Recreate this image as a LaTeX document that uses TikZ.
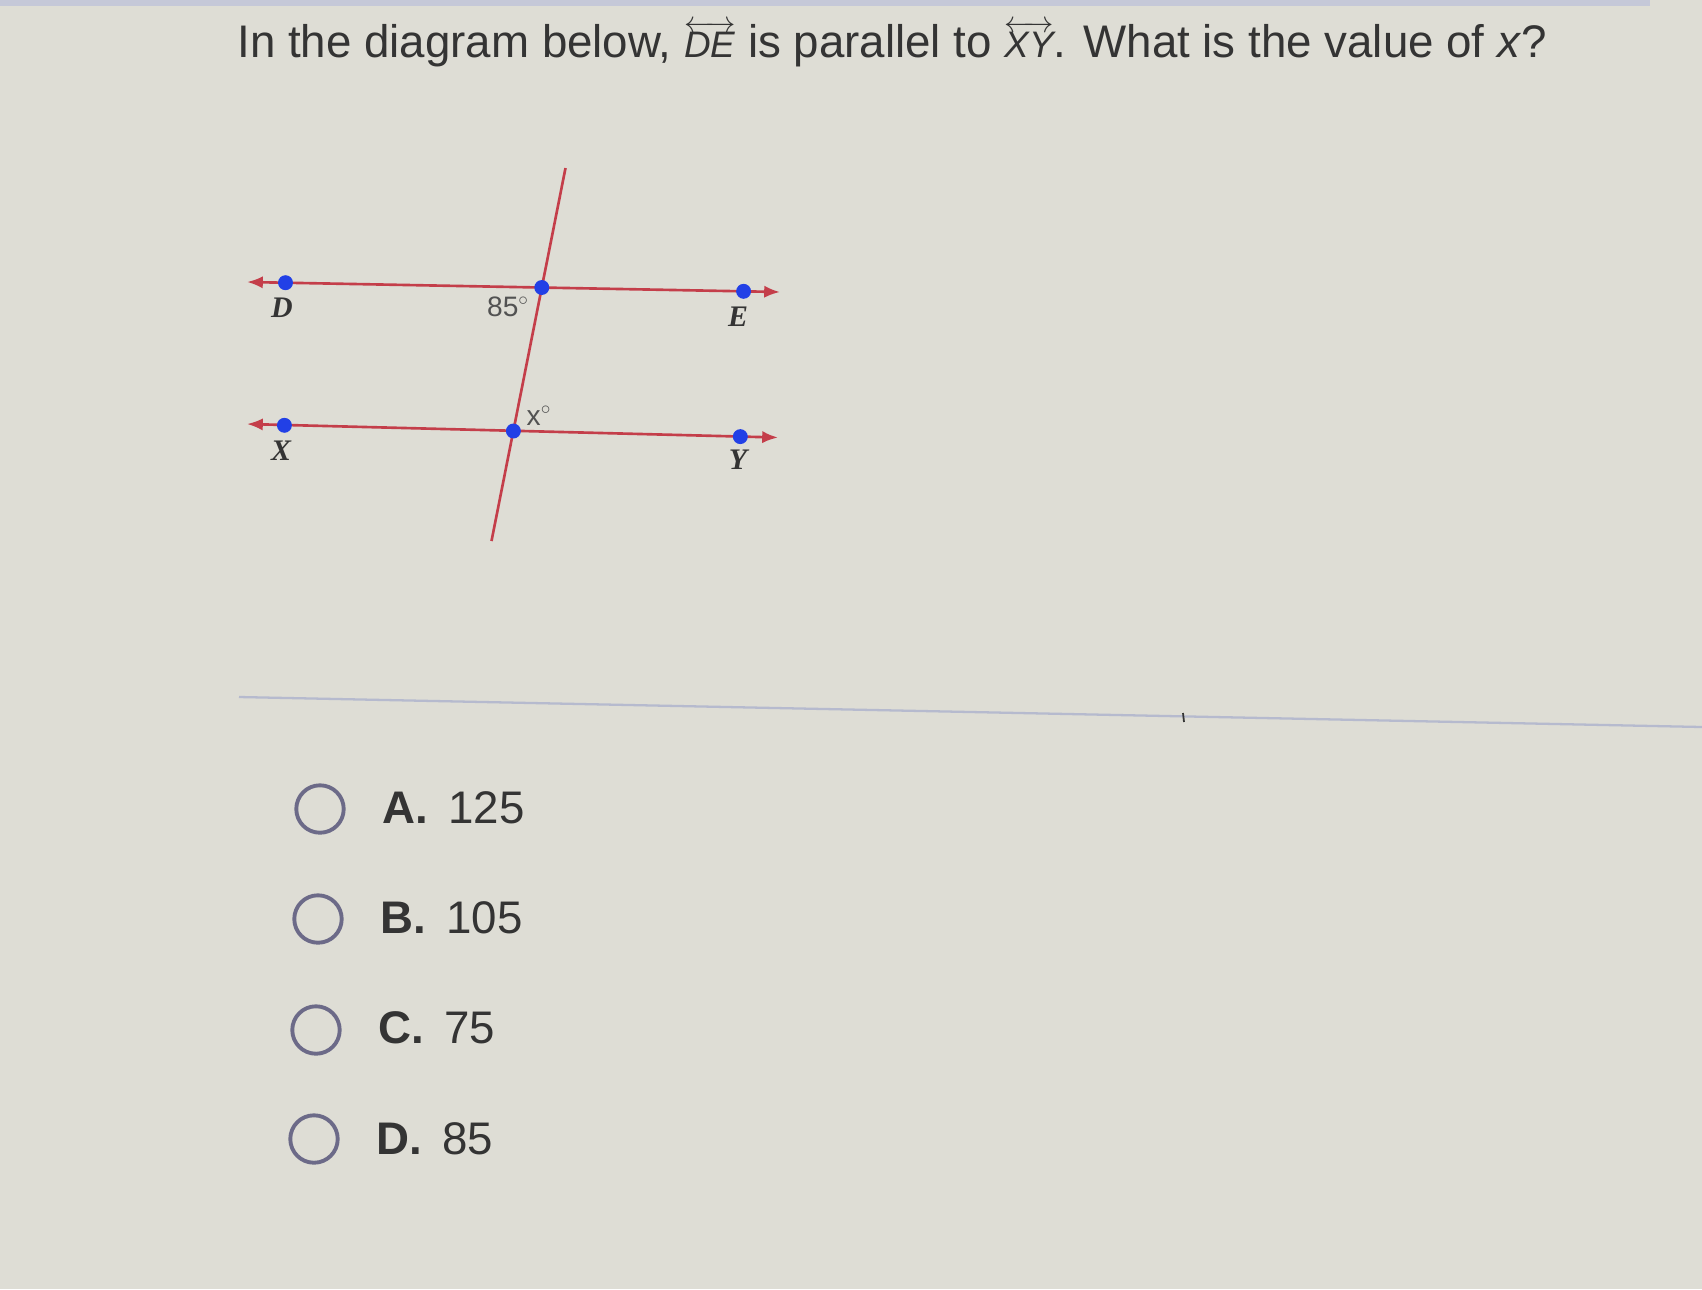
\documentclass[tikz,border=0pt]{standalone}
\usepackage{amsmath}
\usepackage{fontspec}
\setmainfont{Liberation Sans}
\newfontfamily\ptfont{Liberation Serif}
\usetikzlibrary{arrows.meta,calc}
\definecolor{paper}{RGB}{222,221,213}
\definecolor{linered}{RGB}{196,62,74}
\definecolor{dotblue}{RGB}{34,64,230}
\definecolor{ink}{RGB}{52,52,52}
\definecolor{ringgray}{RGB}{108,106,136}
\definecolor{rulegray}{RGB}{182,186,206}
\newcommand{\lineover}[1]{$\scriptstyle\overleftrightarrow{\hbox{\fontsize{21}{21}\selectfont\itshape #1}}$}

\tikzset{
    ray/.style={draw=linered, line width=1.5pt, {Latex[length=9pt,width=7pt]}-{Latex[length=9pt,width=7pt]}},
    cut/.style={draw=linered, line width=1.5pt},
    dot/.style={circle, fill=dotblue, inner sep=0pt, minimum size=8.5pt},
    ptlabel/.style={font=\ptfont\bfseries\itshape\fontsize{17}{17}\selectfont, text=ink, inner sep=0pt},
    anglabel/.style={font=\fontsize{16}{16}\selectfont, text=ink!85, inner sep=0pt},
    ring/.style={circle, draw=ringgray, line width=2.2pt, minimum size=27pt, inner sep=0pt},
    choice/.style={font=\fontsize{26}{30}\selectfont, text=ink, anchor=west, inner sep=0pt}
}

\begin{document}
\begin{tikzpicture}[x=0.02cm, y=-0.02cm]
    % page
    \fill[paper] (0,0) rectangle (1702,1289);
    \useasboundingbox (0,0) rectangle (1702,1289);
    \fill[rulegray!80] (0,0) rectangle (1650,6);

    % question
    \path (237,44) node[anchor=west, inner sep=0pt, text=ink, font=\fontsize{26}{30}\selectfont] (question)
        {In the diagram below, \lineover{DE} is parallel to \lineover{XY}. What is the value of \textit{x}?};

    % line ends
    \coordinate (DL) at (247,282);
    \coordinate (ER) at (780,292);
    \coordinate (XL) at (247,424);
    \coordinate (YR) at (778,437.5);
    \coordinate (T1) at (565.5,168);
    \coordinate (T2) at (491.5,541);

    \draw[ray] (DL) -- (ER);
    \draw[ray] (XL) -- (YR);
    \draw[cut] (T1) -- (T2);

    % points
    \path (285.5,282.7) node[dot] (D) {};
    \path (541.8,287.5) node[dot] (P) {};
    \path (743.6,291.3) node[dot] (E) {};
    \path (284.4,425.3) node[dot] (X) {};
    \path (513.4,431.0) node[dot] (Q) {};
    \path (740.3,436.6) node[dot] (Y) {};

    % labels
    \path (282,308) node[ptlabel] (D-lab) {D};
    \path (738,317) node[ptlabel] (E-lab) {E};
    \path (281,451) node[ptlabel] (X-lab) {X};
    \path (738,460) node[ptlabel] (Y-lab) {Y};
    \path (508,307) node[anglabel] (ang-top) {85$^\circ$};
    \path (539,416) node[anglabel] (ang-x) {x$^\circ$};

    % divider
    \draw[rulegray, line width=1.3pt] (239,697) -- (1702,727);
    \draw[ink, line width=1pt] (1183,713) -- (1184,722);

    % answer choices
    \path (320,809) node[ring] (ring-a) {};
    \path (318,919) node[ring] (ring-b) {};
    \path (316,1030) node[ring] (ring-c) {};
    \path (314,1139) node[ring] (ring-d) {};
    \path (382,808) node[choice] (choice-a) {\textbf{A.}\hspace{0.45em}125};
    \path (380,918) node[choice] (choice-b) {\textbf{B.}\hspace{0.45em}105};
    \path (378,1028) node[choice] (choice-c) {\textbf{C.}\hspace{0.45em}75};
    \path (376,1139) node[choice] (choice-d) {\textbf{D.}\hspace{0.45em}85};
\end{tikzpicture}
\end{document}
